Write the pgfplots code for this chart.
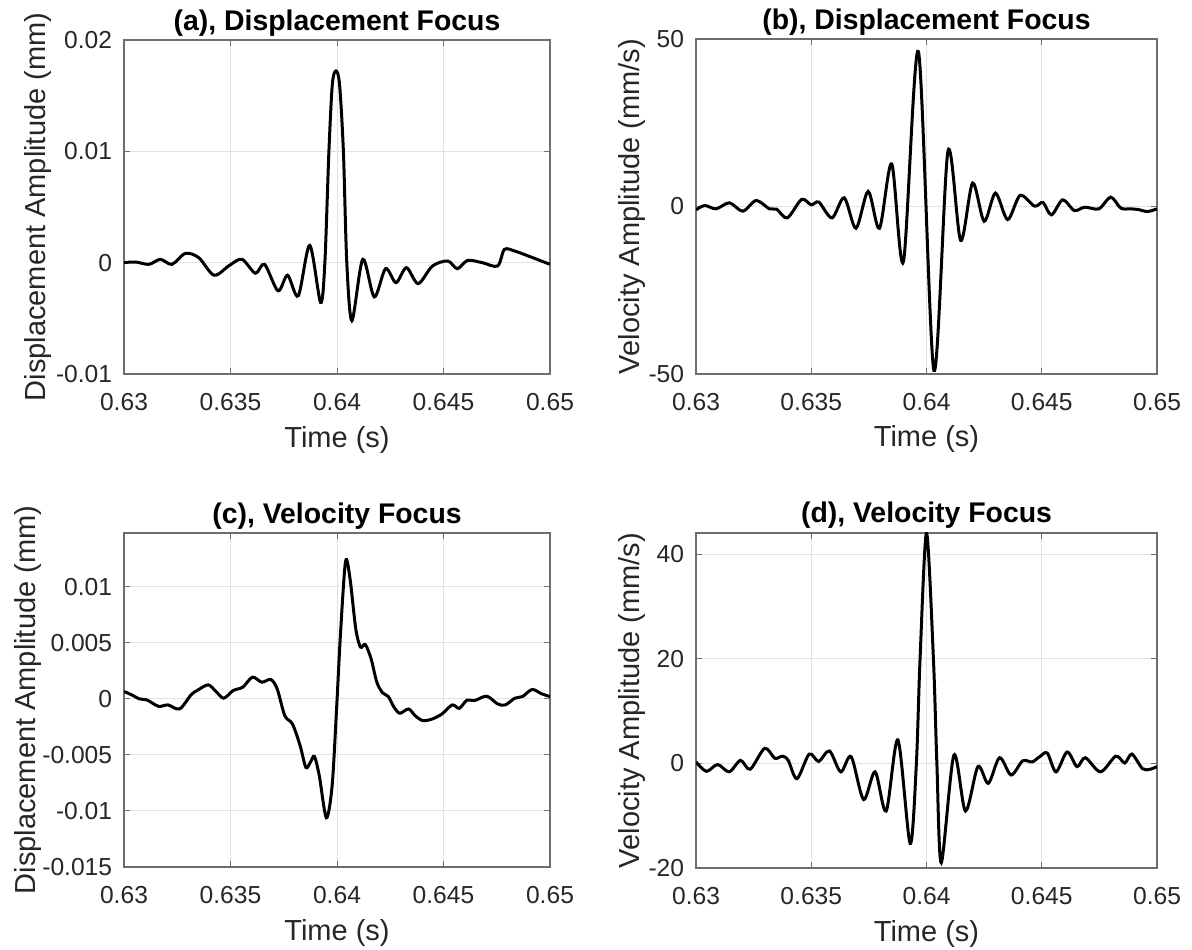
\documentclass[border=0pt]{standalone}
\usepackage{pgfplots}
\pgfplotsset{compat=1.18}
\usepackage{fontspec}
\setmainfont{Liberation Sans}
\definecolor{txt}{RGB}{38,38,38}
\definecolor{framec}{RGB}{110,110,110}
\definecolor{gridc}{RGB}{226,226,226}
\pgfplotsset{
  panel/.style={
    scale only axis,
    anchor=south west,
    xmin=0.63, xmax=0.65,
    xtick={0.63,0.635,0.64,0.645,0.65},
    xticklabels={0.63,0.635,0.64,0.645,0.65},
    scaled x ticks=false, scaled y ticks=false,
    grid=major,
    major grid style={gridc, line width=0.5pt},
    axis line style={framec, line width=0.6pt},
    tick style={framec, line width=0.5pt},
    major tick length=3pt,
    tick align=inside,
    tick label style={font=\fontsize{12.3}{14}\selectfont, text=txt, inner sep=0pt},
    xticklabel style={anchor=north, yshift=-9.5pt},
    yticklabel style={anchor=east, xshift=-5.75pt},
    label style={font=\fontsize{14.5}{16}\selectfont, text=txt, inner sep=0pt},
    every axis title shift=0pt,
    title style={font=\bfseries\fontsize{14.2}{16}\selectfont, text=black, inner sep=0pt, at={(axis description cs:0.5,1)}, anchor=base, yshift=5pt},
    xlabel={Time (s)},
  },
  curve/.style={black, line width=1.5pt, smooth, mark=none},
}
\begin{document}
\begin{tikzpicture}
\path[use as bounding box] (0,0) rectangle (596pt,474.5pt);

% (a)
\begin{axis}[panel, at={(62pt,287.5pt)}, width=213pt, height=167pt,
  ymin=-0.01, ymax=0.02, ytick={-0.01,0,0.01,0.02}, yticklabels={-0.01,0,0.01,0.02},
  title={(a), Displacement Focus},
  ylabel={Displacement Amplitude (mm)},
  xlabel style={at={(axis description cs:0.5,-0.2186)}, anchor=base},
  ylabel style={at={(axis description cs:-0.1831,0.5)}, anchor=base}]
\addplot[curve] coordinates {
(0.63000,0) (0.63054,0.00006) (0.63117,-0.00015) (0.63171,0.0003) (0.63225,-0.00015)
(0.63288,0.00083) (0.63351,0.00045) (0.63423,-0.00113) (0.63495,-0.00024) (0.63554,0.0003)
(0.63617,-0.00095) (0.63660,-0.00015) (0.63723,-0.00253) (0.63768,-0.00113) (0.63818,-0.00298)
(0.63872,0.00155) (0.63923,-0.00357) (0.63943,0.0) (0.63962,0.0100) (0.63978,0.0160)
(0.63995,0.01722) (0.64012,0.0160) (0.64030,0.0100) (0.64046,0.0) (0.64070,-0.00521)
(0.64121,0.0003) (0.64175,-0.00307) (0.64228,-0.00054) (0.64277,-0.00179) (0.64326,-0.00045)
(0.64381,-0.00188) (0.64448,-0.0003) (0.64520,0.00015) (0.64565,-0.00054) (0.64613,0.0002)
(0.64682,0) (0.64754,-0.0003) (0.64786,0.00119) (0.64835,0.00104) (0.64898,0.0006) (0.65,-0.00015)
};
\end{axis}

% (b)
\begin{axis}[panel, at={(348pt,287.5pt)}, width=230.5pt, height=167.5pt,
  ymin=-50, ymax=50, ytick={-50,0,50}, yticklabels={-50,0,50},
  title={(b), Displacement Focus},
  ylabel={Velocity Amplitude (mm/s)},
  xlabel style={at={(axis description cs:0.5,-0.2179)}, anchor=base},
  ylabel style={at={(axis description cs:-0.1215,0.5)}, anchor=base}]
\addplot[curve] coordinates {
(0.63,-1) (0.63038,0.3) (0.63087,-0.7) (0.63145,1.1) (0.63203,-1.4) (0.63261,1.8)
(0.63318,-0.7) (0.63350,-0.8) (0.63396,-3.4) (0.63458,2.1) (0.63500,0.5) (0.63533,1.3)
(0.63590,-3.4) (0.63643,2.6) (0.63694,-6.5) (0.63747,4.5) (0.63796,-6.5) (0.63849,12.7)
(0.63900,-16.4) (0.63965,46.2) (0.64032,-48.9)
(0.64093,16.5) (0.64148,-10.1) (0.64200,7.0) (0.64250,-4.4)
(0.64299,4.0) (0.64352,-3.9) (0.64406,3.3) (0.64469,0.1) (0.64505,1.2) (0.64542,-2.5)
(0.64591,2.0) (0.64641,-1.2) (0.64687,-0.2) (0.64748,-0.7) (0.64799,2.8) (0.64843,-0.5)
(0.64885,-0.7) (0.64918,-0.9) (0.64959,-1.5) (0.65,-0.7)
};
\end{axis}

% (c)
\begin{axis}[panel, at={(62pt,41pt)}, width=213pt, height=167pt,
  ymin=-0.015, ymax=0.0148, ytick={-0.015,-0.01,-0.005,0,0.005,0.01},
  yticklabels={-0.015,-0.01,-0.005,0,0.005,0.01},
  title={(c), Velocity Focus},
  ylabel={Displacement Amplitude (mm)},
  xlabel style={at={(axis description cs:0.5,-0.2186)}, anchor=base},
  ylabel style={at={(axis description cs:-0.2089,0.5)}, anchor=base}]
\addplot[curve] coordinates {
(0.63,0.00066) (0.63036,0.00036) (0.63072,0) (0.63108,-0.0001) (0.63162,-0.00066)
(0.63207,-0.00054) (0.63261,-0.0009) (0.63315,0.00036) (0.63351,0.00084) (0.63396,0.00125)
(0.63432,0.00066) (0.63468,0.00006) (0.63513,0.00075) (0.63558,0.00105) (0.63603,0.00194)
(0.63647,0.00149) (0.63689,0.00173) (0.63719,0.0009) (0.63755,-0.0015) (0.63791,-0.00224)
(0.63827,-0.00418) (0.63854,-0.00612) (0.63876,-0.00562) (0.63894,-0.00514) (0.63917,-0.00687)
(0.63950,-0.0106) (0.63977,-0.00777) (0.63998,-0.0009) (0.64016,0.00568) (0.64040,0.01225)
(0.64061,0.01075) (0.64088,0.00627) (0.64110,0.00463) (0.64133,0.00484) (0.64160,0.00358)
(0.64187,0.00149) (0.64214,0.00054) (0.64241,0.00021) (0.64268,-0.00075) (0.64295,-0.00128)
(0.64336,-0.0009) (0.64367,-0.0015) (0.64403,-0.00194) (0.64448,-0.00179) (0.64493,-0.00134)
(0.64541,-0.00054) (0.64574,-0.00084) (0.64610,-0.00012) (0.64646,-0.00015) (0.64703,0.00024)
(0.64754,-0.00045) (0.64790,-0.00054) (0.64835,0.00006) (0.64871,0.00021) (0.64916,0.00084)
(0.64961,0.00045) (0.65,0.00021)
};
\end{axis}

% (d)
\begin{axis}[panel, at={(348pt,40.5pt)}, width=230.5pt, height=167.5pt,
  ymin=-20, ymax=44.1, ytick={-20,0,20,40}, yticklabels={-20,0,20,40},
  title={(d), Velocity Focus},
  ylabel={Velocity Amplitude (mm/s)},
  xlabel style={at={(axis description cs:0.5,-0.2179)}, anchor=base},
  ylabel style={at={(axis description cs:-0.1236,0.5)}, anchor=base}]
\addplot[curve] coordinates {
(0.63,0.3) (0.63045,-1.5) (0.63094,-0.2) (0.63144,-1.6) (0.63193,0.6) (0.63235,-1.1)
(0.63298,2.9) (0.63342,1.0) (0.63375,1.4) (0.63400,0.6) (0.63438,-2.9) (0.63491,1.8)
(0.63532,0.4) (0.63579,2.4) (0.63628,-1.6) (0.63673,1.3) (0.63727,-6.9) (0.63777,-1.6)
(0.63825,-9.1) (0.63876,4.5) (0.63929,-15.3) (0.63956,0) (0.63972,20) (0.64000,44.1)
(0.64030,20) (0.64045,0) (0.64064,-19.0) (0.64119,1.6) (0.64169,-9.1) (0.64223,-0.6)
(0.64268,-3.8) (0.64317,1.1) (0.64367,-2.2) (0.64417,0.5) (0.64458,0.3) (0.64491,1.3)
(0.64524,2.0) (0.64562,-1.6) (0.64610,2.2) (0.64653,-0.6) (0.64689,1.1) (0.64755,-1.6)
(0.64821,1.4) (0.64860,0.1) (0.64891,1.8) (0.64937,-1.0) (0.64970,-1.1) (0.65,-0.6)
};
\end{axis}
\end{tikzpicture}
\end{document}
